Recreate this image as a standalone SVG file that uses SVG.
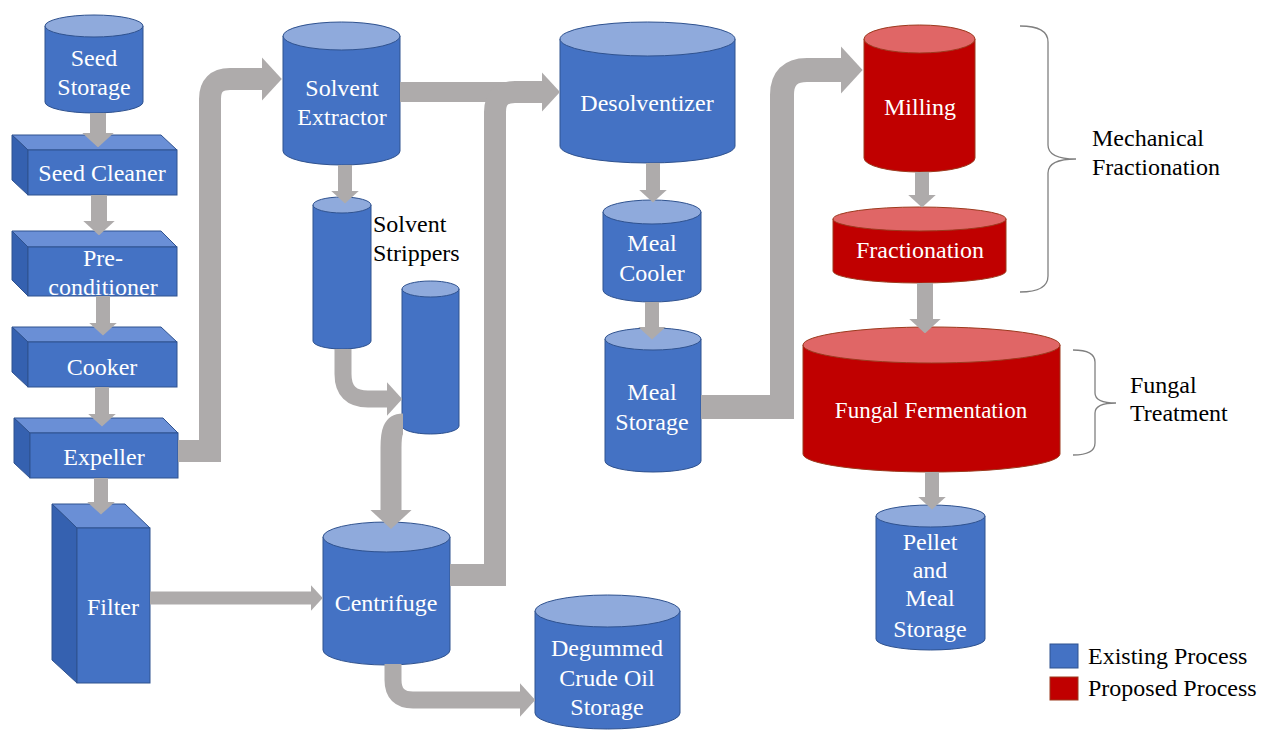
<svg xmlns="http://www.w3.org/2000/svg" width="1261" height="733" viewBox="0 0 1261 733" font-family="Liberation Serif, Times New Roman, serif">
<style>
.body{fill:#4472C4;stroke:#2F528F;stroke-width:1}
.top{fill:#8FAADC;stroke:#2F528F;stroke-width:1}
.rbody{fill:#C00000;stroke:#9C3A1E;stroke-width:1}
.rtop{fill:#E06666;stroke:#9C3A1E;stroke-width:1}
.btop{fill:#6A8FD6;stroke:#2F528F;stroke-width:1}
.bside{fill:#3561B0;stroke:#2F528F;stroke-width:1}
.wt{font-size:24px;fill:#FFFFFF;text-anchor:middle}
.bt{font-size:24px;fill:#000000}
.flow{fill:none;stroke:#AEABAB;stroke-linejoin:miter;stroke-linecap:butt;marker-end:url(#ah)}
.flown{fill:none;stroke:#AEABAB;stroke-linejoin:miter;stroke-linecap:butt}
.brace{fill:none;stroke:#808080;stroke-width:1.3}
</style>
<defs>
<marker id="ah" markerUnits="strokeWidth" viewBox="0 0 90 196" markerWidth="0.9" markerHeight="1.96" refX="0" refY="98" orient="auto">
<path d="M0,0 L90,98 L0,196 Z" fill="#AEABAB"/>
</marker>
</defs>
<rect width="1261" height="733" fill="#FFFFFF"/>

<g id="seed-storage">
<path class="body" d="M45,26 L45,102 A49,11 0 0 0 143,102 L143,26 Z"/>
<ellipse class="top" cx="94" cy="26" rx="49" ry="11"/>
<text class="wt" x="94" y="66">Seed</text>
<text class="wt" x="94" y="95">Storage</text>
</g>

<g id="seed-cleaner">
<polygon class="btop" points="12,135 161,135 177,150 28,150"/>
<polygon class="bside" points="12,135 28,150 28,195 12,180"/>
<rect class="body" x="28" y="150" width="149" height="45"/>
<text class="wt" x="102" y="181">Seed Cleaner</text>
</g>

<g id="pre-conditioner">
<polygon class="btop" points="12,231 161,231 177,247 28,247"/>
<polygon class="bside" points="12,231 28,247 28,296 12,280"/>
<rect class="body" x="28" y="247" width="149" height="49"/>
<text class="wt" x="103" y="266">Pre-</text>
<text class="wt" x="103" y="295">conditioner</text>
</g>

<g id="cooker">
<polygon class="btop" points="12,327 161,327 177,342 28,342"/>
<polygon class="bside" points="12,327 28,342 28,387 12,372"/>
<rect class="body" x="28" y="342" width="149" height="45"/>
<text class="wt" x="102" y="375">Cooker</text>
</g>

<g id="expeller">
<polygon class="btop" points="14,418 163,418 178,433 30,433"/>
<polygon class="bside" points="14,418 30,433 30,478 14,463"/>
<rect class="body" x="30" y="433" width="148" height="45"/>
<text class="wt" x="104" y="465">Expeller</text>
</g>

<g id="filter">
<polygon class="btop" points="52,504 125,504 150,528 77,528"/>
<polygon class="bside" points="52,504 77,528 77,683 52,660"/>
<rect class="body" x="77" y="528" width="73" height="155"/>
<text class="wt" x="113" y="615">Filter</text>
</g>

<g id="solvent-extractor">
<path class="body" d="M283,36 L283,151 A58.5,14 0 0 0 400,151 L400,36 Z"/>
<ellipse class="top" cx="341.5" cy="36" rx="58.5" ry="14"/>
<text class="wt" x="342" y="96">Solvent</text>
<text class="wt" x="342" y="125">Extractor</text>
</g>

<g id="solvent-stripper-1">
<path class="body" d="M313,205 L313,341 A29,8 0 0 0 371,341 L371,205 Z"/>
<ellipse class="top" cx="342" cy="205" rx="29" ry="8"/>
</g>

<g id="solvent-stripper-2">
<path class="body" d="M402,289 L402,426 A28.5,8 0 0 0 459,426 L459,289 Z"/>
<ellipse class="top" cx="430.5" cy="289" rx="28.5" ry="8"/>
</g>

<g id="solvent-strippers-label">
<text class="bt" x="373" y="232">Solvent</text>
<text class="bt" x="373" y="261">Strippers</text>
</g>

<g id="centrifuge">
<path class="body" d="M323,537 L323,650 A63.5,15 0 0 0 450,650 L450,537 Z"/>
<ellipse class="top" cx="386.5" cy="537" rx="63.5" ry="15"/>
<text class="wt" x="386" y="611">Centrifuge</text>
</g>

<g id="degummed-crude-oil-storage">
<path class="body" d="M535,611 L535,713 A72.5,16 0 0 0 680,713 L680,611 Z"/>
<ellipse class="top" cx="607.5" cy="611" rx="72.5" ry="16"/>
<text class="wt" x="607" y="656">Degummed</text>
<text class="wt" x="607" y="686">Crude Oil</text>
<text class="wt" x="607" y="715">Storage</text>
</g>

<g id="desolventizer">
<path class="body" d="M560,39 L560,146 A87.5,17 0 0 0 735,146 L735,39 Z"/>
<ellipse class="top" cx="647.5" cy="39" rx="87.5" ry="17"/>
<text class="wt" x="647" y="111">Desolventizer</text>
</g>

<g id="meal-cooler">
<path class="body" d="M603,212 L603,290 A49,12 0 0 0 701,290 L701,212 Z"/>
<ellipse class="top" cx="652" cy="212" rx="49" ry="12"/>
<text class="wt" x="652" y="251">Meal</text>
<text class="wt" x="652" y="281">Cooler</text>
</g>

<g id="meal-storage">
<path class="body" d="M605,339 L605,461 A48,11 0 0 0 701,461 L701,339 Z"/>
<ellipse class="top" cx="653" cy="339" rx="48" ry="11"/>
<text class="wt" x="652" y="400">Meal</text>
<text class="wt" x="652" y="430">Storage</text>
</g>

<g id="milling">
<path class="rbody" d="M864,39 L864,158 A55.5,14 0 0 0 975,158 L975,39 Z"/>
<ellipse class="rtop" cx="919.5" cy="39" rx="55.5" ry="14"/>
<text class="wt" x="920" y="115">Milling</text>
</g>

<g id="fractionation">
<path class="rbody" d="M833,219 L833,271 A86.5,12 0 0 0 1006,271 L1006,219 Z"/>
<ellipse class="rtop" cx="919.5" cy="219" rx="86.5" ry="12"/>
<text class="wt" x="920" y="258">Fractionation</text>
</g>

<g id="fungal-fermentation">
<path class="rbody" d="M803,345 L803,454 A128.5,18 0 0 0 1060,454 L1060,345 Z"/>
<ellipse class="rtop" cx="931.5" cy="345" rx="128.5" ry="18"/>
<text class="wt" x="931" y="418" style="font-size:23px">Fungal Fermentation</text>
</g>

<g id="pellet-and-meal-storage">
<path class="body" d="M876,516 L876,639 A54.5,11 0 0 0 985,639 L985,516 Z"/>
<ellipse class="top" cx="930.5" cy="516" rx="54.5" ry="11"/>
<text class="wt" x="930" y="550">Pellet</text>
<text class="wt" x="930" y="578">and</text>
<text class="wt" x="930" y="606">Meal</text>
<text class="wt" x="930" y="637">Storage</text>
</g>

<g id="connectors">
<path class="flow" stroke-width="16" d="M98,113 L98,133"/>
<path class="flow" stroke-width="16" d="M99,195 L99,221"/>
<path class="flow" stroke-width="14" d="M103,296 L103,323"/>
<path class="flow" stroke-width="14" d="M102,387 L102,414"/>
<path class="flow" stroke-width="14" d="M101,478 L101,502"/>
<path class="flow" stroke-width="22" d="M178,451 L210,451 L210,99 Q210,79 230,79 L262,79"/>
<path class="flow" stroke-width="13" d="M150,598 L311,598"/>
<path class="flow" stroke-width="14" d="M345,165 L345,191"/>
<path class="flow" stroke-width="17" d="M343,349 L343,374 Q343,399 368,399 L387,399"/>
<path class="flow" stroke-width="21" d="M403,424 C393,424 391,432 391,448 L391,510"/>
<path class="flow" stroke-width="17" d="M393,664 L393,680 Q393,700 413,700 L520,700"/>
<path class="flow" stroke-width="20" d="M400,92 L542,92"/>
<path class="flown" stroke-width="22" d="M450,575 L495,575 L495,112 Q495,92 515,92 L542,92"/>
<path class="flow" stroke-width="14" d="M653,163 L653,190"/>
<path class="flow" stroke-width="14" d="M652,302 L652,327"/>
<path class="flow" stroke-width="24" d="M701,407 L782,407 L782,95 Q782,70 807,70 L841,70"/>
<path class="flow" stroke-width="14" d="M922,172 L922,195"/>
<path class="flow" stroke-width="16" d="M925,283 L925,319"/>
<path class="flow" stroke-width="14" d="M932,472 L932,497"/>
</g>

<g id="mechanical-fractionation">
<path class="brace" d="M1020,26 Q1048,26 1048,42 L1048,145 Q1048,159 1076,159 Q1048,159 1048,173 L1048,276 Q1048,292 1020,292"/>
<text class="bt" x="1092" y="146">Mechanical</text>
<text class="bt" x="1092" y="175">Fractionation</text>
</g>

<g id="fungal-treatment">
<path class="brace" d="M1073,350 Q1095,350 1095,362 L1095,393 Q1095,403 1116,403 Q1095,403 1095,413 L1095,443 Q1095,455 1073,455"/>
<text class="bt" x="1130" y="393">Fungal</text>
<text class="bt" x="1130" y="421">Treatment</text>
</g>

<g id="legend">
<rect x="1050" y="644" width="28" height="24" fill="#4472C4" stroke="#2F528F" stroke-width="1"/>
<text class="bt" x="1088" y="664">Existing Process</text>
<rect x="1050" y="677" width="28" height="23" fill="#C00000" stroke="#9C3A1E" stroke-width="1"/>
<text class="bt" x="1088" y="696">Proposed Process</text>
</g>
</svg>
